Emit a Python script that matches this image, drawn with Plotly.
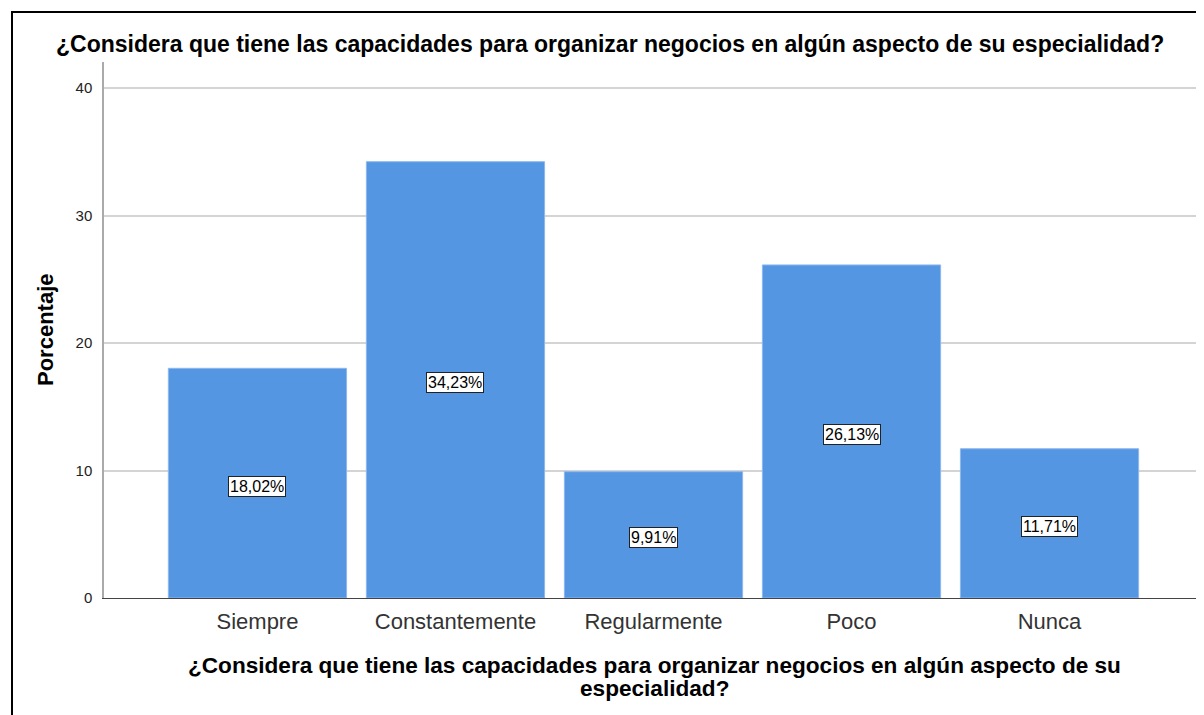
import plotly.graph_objects as go

categories = ["Siempre", "Constantemente", "Regularmente", "Poco", "Nunca"]
percentages = [18.02, 34.23, 9.91, 26.13, 11.71]
value_labels = ["18,02%", "34,23%", "9,91%", "26,13%", "11,71%"]
y_ticks = [0, 10, 20, 30, 40]

title_text = "¿Considera que tiene las capacidades para organizar negocios en algún aspecto de su especialidad?"
x_title_lines = ["¿Considera que tiene las capacidades para organizar negocios en algún aspecto de su",
                 "especialidad?"]
y_title = "Porcentaje"

# page coordinates of the plot area (page has an 8px body margin)
OFF = 8
PL, PR, PT, PB = 104, 1201, 62, 598
W, H = 1204 - OFF, 715 - OFF
L, T = PL - OFF, PT - OFF
R = W - (PR - OFF)
B = H - (PB - OFF)
pw, ph = PR - PL, PB - PT

FONT = "Arial, Liberation Sans, sans-serif"

fig = go.Figure()
fig.add_trace(go.Bar(
    x=list(range(len(categories))), y=percentages,
    marker=dict(color="#5596E3", line=dict(color="#8DB8EE", width=1)),
    width=0.9, hoverinfo="skip",
))

for i, (v, lab) in enumerate(zip(percentages, value_labels)):
    fig.add_annotation(
        x=i, y=v / 2, xref="x", yref="y", text=lab, showarrow=False, yshift=-3,
        font=dict(family=FONT, size=16, color="#000"),
        bgcolor="white", bordercolor="#222", borderwidth=1, borderpad=1,
    )

# title
fig.add_annotation(
    x=(610 - PL) / pw, y=1 + (PT - 44) / ph, xref="paper", yref="paper",
    text="<b>" + title_text + "</b>", showarrow=False,
    font=dict(family=FONT, size=23, color="#000"),
    xanchor="center", yanchor="middle",
)
# x-axis title (two lines)
for line, ypix in zip(x_title_lines, [665, 688]):
    fig.add_annotation(
        x=(654 - PL) / pw, y=-(ypix - PB) / ph, xref="paper", yref="paper",
        text="<b>" + line + "</b>", showarrow=False,
        font=dict(family=FONT, size=22.6, color="#000"),
        xanchor="center", yanchor="middle",
    )
# y-axis title
fig.add_annotation(
    x=-(PL - 45) / pw, y=0.5, xref="paper", yref="paper",
    text="<b>" + y_title + "</b>", showarrow=False, textangle=-90,
    font=dict(family=FONT, size=22, color="#000"),
    xanchor="center", yanchor="middle",
)

# outer frame
fig.add_shape(
    type="rect", xref="paper", yref="paper",
    x0=-(PL - 12) / pw, x1=1.2, y0=-0.5, y1=1 + (PT - 12) / ph,
    line=dict(color="black", width=2), fillcolor="rgba(0,0,0,0)", layer="above",
)

fig.update_layout(
    width=W, height=H,
    margin=dict(l=L, r=R, t=T, b=B, pad=0),
    paper_bgcolor="white", plot_bgcolor="white",
    showlegend=False, bargap=0.1,
    font=dict(family=FONT, color="#333"),
)
fig.update_xaxes(
    range=[-0.775, 4.765], tickvals=list(range(len(categories))), ticktext=categories,
    tickfont=dict(size=22, color="#333"), showgrid=False, zeroline=False,
    showline=True, linecolor="#444", linewidth=1, ticks="", ticklabelstandoff=4,
)
fig.update_yaxes(
    range=[0, 42.05], tickvals=y_ticks, ticks="",
    tickfont=dict(size=15, color="#222"), showgrid=True, gridcolor="#D4D4D4", gridwidth=1.5,
    zeroline=False, showline=True, linecolor="#AAAAAA", linewidth=1.5, ticklabelstandoff=7,
)

fig.write_html("out.html")
